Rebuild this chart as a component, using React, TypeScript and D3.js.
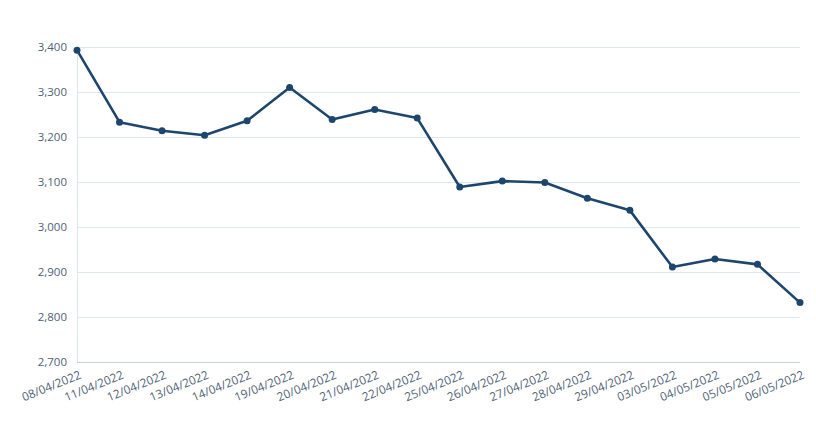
import { useEffect, useRef } from 'react';
import * as d3 from 'd3';

const dates = [
    '08/04/2022', '11/04/2022', '12/04/2022', '13/04/2022', '14/04/2022',
    '19/04/2022', '20/04/2022', '21/04/2022', '22/04/2022', '25/04/2022',
    '26/04/2022', '27/04/2022', '28/04/2022', '29/04/2022', '03/05/2022',
    '04/05/2022', '05/05/2022', '06/05/2022',
];
const values = [
    3393, 3233, 3214, 3204, 3236, 3310, 3239, 3261, 3242, 3089,
    3102, 3099, 3064, 3037, 2911, 2929, 2917, 2832,
];
const yTicks = [2700, 2800, 2900, 3000, 3100, 3200, 3300, 3400];

const width = 816;
const height = 437;
const margin = { top: 47, right: 16, bottom: 75, left: 77 };

const App = () => {
    const svgRef = useRef<SVGSVGElement>(null);

    useEffect(() => {
        const svg = d3.select(svgRef.current);
        svg.selectAll('*').remove();

        const x = d3
            .scalePoint()
            .domain(dates)
            .range([margin.left, width - margin.right]);
        const y = d3
            .scaleLinear()
            .domain([2700, 3400])
            .range([height - margin.bottom, margin.top]);

        // gridlines
        svg.append('g')
            .selectAll('line')
            .data(yTicks.slice(1))
            .join('line')
            .attr('x1', margin.left)
            .attr('x2', width - margin.right)
            .attr('y1', d => y(d) + 0.5)
            .attr('y2', d => y(d) + 0.5)
            .attr('stroke', '#dfe7ee');

        // y axis line
        svg.append('line')
            .attr('x1', margin.left + 0.5)
            .attr('x2', margin.left + 0.5)
            .attr('y1', margin.top)
            .attr('y2', y(2700))
            .attr('stroke', '#dfe7ee');

        // x axis line
        svg.append('line')
            .attr('x1', margin.left)
            .attr('x2', width - margin.right)
            .attr('y1', y(2700) + 0.5)
            .attr('y2', y(2700) + 0.5)
            .attr('stroke', '#c8d0d8');

        // y labels
        svg.append('g')
            .selectAll('text')
            .data(yTicks)
            .join('text')
            .attr('x', margin.left - 10)
            .attr('y', d => y(d) + 4)
            .attr('text-anchor', 'end')
            .attr('font-family', '"Open Sans", sans-serif')
            .attr('font-size', 11.5)
            .attr('fill', '#4f5f75')
            .text(d => d3.format(',')(d));

        // x labels
        svg.append('g')
            .selectAll('text')
            .data(dates)
            .join('text')
            .attr('transform', d => `translate(${(x(d) ?? 0) + 5},${y(2700) + 16}) rotate(-22)`)
            .attr('text-anchor', 'end')
            .attr('font-family', '"Open Sans", sans-serif')
            .attr('font-size', 11.8)
            .attr('fill', '#4f5f75')
            .text(d => d);

        const line = d3
            .line<number>()
            .x((_, i) => x(dates[i]) ?? 0)
            .y(d => y(d));

        svg.append('path')
            .datum(values)
            .attr('d', line)
            .attr('fill', 'none')
            .attr('stroke', '#1d466e')
            .attr('stroke-width', 2.6)
            .attr('stroke-linejoin', 'round');

        svg.append('g')
            .selectAll('circle')
            .data(values)
            .join('circle')
            .attr('cx', (_, i) => x(dates[i]) ?? 0)
            .attr('cy', d => y(d))
            .attr('r', 3.5)
            .attr('fill', '#1d466e');
    }, []);

    return (
        <div style={{ margin: -8 }}>
            <svg ref={svgRef} width={width} height={height}></svg>
        </div>
    );
};

export default App;
